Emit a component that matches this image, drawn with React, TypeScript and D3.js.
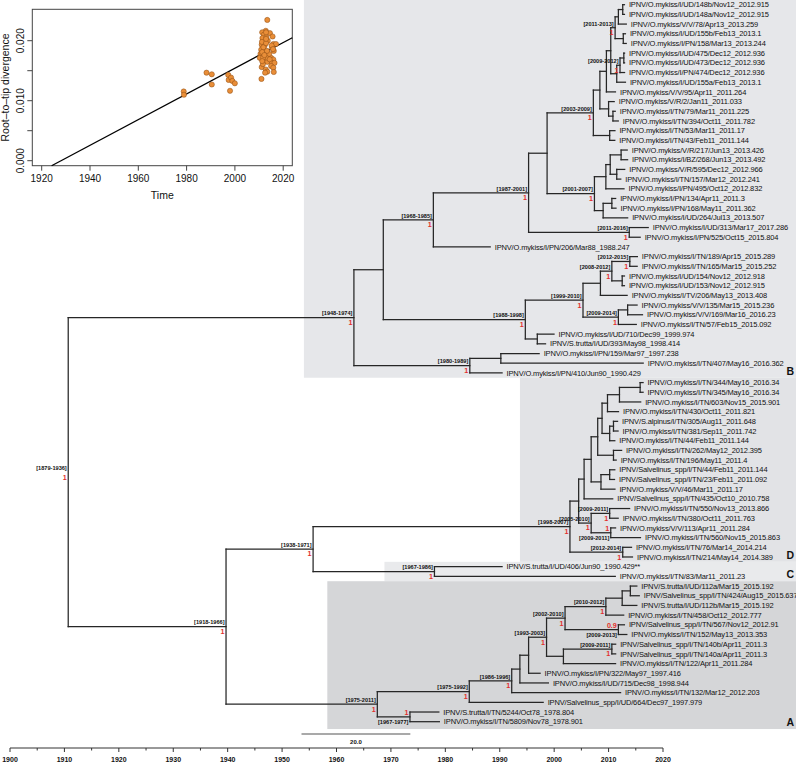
import React from "react";
import * as d3 from "d3";

// ---------- tree data ----------
const leafNames = [
  "IPNV/O.mykiss/I/UD/148b/Nov12_2012.915",
  "IPNV/O.mykiss/I/UD/148a/Nov12_2012.915",
  "IPNV/O.mykiss/V/V/78/Apr13_2013.259",
  "IPNV/O.mykiss/I/UD/155b/Feb13_2013.1",
  "IPNV/O.mykiss/I/PN/158/Mar13_2013.244",
  "IPNV/O.mykiss/I/UD/475/Dec12_2012.936",
  "IPNV/O.mykiss/I/UD/473/Dec12_2012.936",
  "IPNV/O.mykiss/I/PN/474/Dec12_2012.936",
  "IPNV/O.mykiss/I/UD/155a/Feb13_2013.1",
  "IPNV/O.mykiss/V/V/95/Apr11_2011.264",
  "IPNV/O.mykiss/V/R/2/Jan11_2011.033",
  "IPNV/O.mykiss/I/TN/79/Mar11_2011.225",
  "IPNV/O.mykiss/I/TN/394/Oct11_2011.782",
  "IPNV/O.mykiss/I/TN/53/Mar11_2011.17",
  "IPNV/O.mykiss/I/TN/43/Feb11_2011.144",
  "IPNV/O.mykiss/V/R/217/Jun13_2013.426",
  "IPNV/O.mykiss/I/BZ/268/Jun13_2013.492",
  "IPNV/O.mykiss/V/R/595/Dec12_2012.966",
  "IPNV/O.mykiss/I/TN/157/Mar12_2012.241",
  "IPNV/O.mykiss/I/PN/495/Oct12_2012.832",
  "IPNV/O.mykiss/I/PN/134/Apr11_2011.3",
  "IPNV/O.mykiss/I/PN/168/May11_2011.362",
  "IPNV/O.mykiss/I/UD/264/Jul13_2013.507",
  "IPNV/O.mykiss/I/UD/313/Mar17_2017.286",
  "IPNV/O.mykiss/I/PN/525/Oct15_2015.804",
  "IPNV/O.mykiss/I/PN/206/Mar88_1988.247",
  "IPNV/O.mykiss/I/TN/189/Apr15_2015.289",
  "IPNV/O.mykiss/I/TN/165/Mar15_2015.252",
  "IPNV/O.mykiss/I/UD/154/Nov12_2012.918",
  "IPNV/O.mykiss/I/UD/153/Nov12_2012.915",
  "IPNV/O.mykiss/I/TV/206/May13_2013.408",
  "IPNV/O.mykiss/V/V/135/Mar15_2015.236",
  "IPNV/O.mykiss/V/V/169/Mar16_2016.23",
  "IPNV/O.mykiss/I/TN/57/Feb15_2015.092",
  "IPNV/O.mykiss/I/UD/710/Dec99_1999.974",
  "IPNV/S.trutta/I/UD/393/May98_1998.414",
  "IPNV/O.mykiss/I/PN/159/Mar97_1997.238",
  "IPNV/O.mykiss/I/TN/407/May16_2016.362",
  "IPNV/O.mykiss/I/PN/410/Jun90_1990.429",
  "IPNV/O.mykiss/I/TN/344/May16_2016.34",
  "IPNV/O.mykiss/I/TN/345/May16_2016.34",
  "IPNV/O.mykiss/I/TN/603/Nov15_2015.901",
  "IPNV/O.mykiss/I/TN/430/Oct11_2011.821",
  "IPNV/S.alpinus/I/TN/305/Aug11_2011.648",
  "IPNV/O.mykiss/I/TN/381/Sep11_2011.742",
  "IPNV/O.mykiss/I/TN/44/Feb11_2011.144",
  "IPNV/O.mykiss/I/TN/262/May12_2012.395",
  "IPNV/O.mykiss/I/TN/196/May11_2011.4",
  "IPNV/Salvelinus_spp/I/TN/44/Feb11_2011.144",
  "IPNV/Salvelinus_spp/I/TN/23/Feb11_2011.092",
  "IPNV/O.mykiss/V/V/46/Mar11_2011.17",
  "IPNV/Salvelinus_spp/I/TN/435/Oct10_2010.758",
  "IPNV/O.mykiss/I/TN/550/Nov13_2013.866",
  "IPNV/O.mykiss/I/TN/380/Oct11_2011.763",
  "IPNV/O.mykiss/V/V/113/Apr11_2011.284",
  "IPNV/O.mykiss/I/TN/560/Nov15_2015.863",
  "IPNV/O.mykiss/I/TN/76/Mar14_2014.214",
  "IPNV/O.mykiss/I/TN/214/May14_2014.389",
  "IPNV/S.trutta/I/UD/406/Jun90_1990.429**",
  "IPNV/O.mykiss/I/TN/83/Mar11_2011.23",
  "IPNV/S.trutta/I/UD/112a/Mar15_2015.192",
  "IPNV/Salvelinus_spp/I/TN/424/Aug15_2015.637",
  "IPNV/S.trutta/I/UD/112b/Mar15_2015.192",
  "IPNV/O.mykiss/I/TN/458/Oct12_2012.777",
  "IPNV/Salvelinus_spp/I/TN/567/Nov12_2012.91",
  "IPNV/O.mykiss/I/TN/152/May13_2013.353",
  "IPNV/Salvelinus_spp/I/TN/140b/Apr11_2011.3",
  "IPNV/Salvelinus_spp/I/TN/140a/Apr11_2011.3",
  "IPNV/O.mykiss/I/TN/122/Apr11_2011.284",
  "IPNV/O.mykiss/I/PN/322/May97_1997.416",
  "IPNV/O.mykiss/I/UD/715/Dec98_1998.944",
  "IPNV/O.mykiss/I/TN/132/Mar12_2012.203",
  "IPNV/Salvelinus_spp/I/UD/664/Dec97_1997.979",
  "IPNV/S.trutta/I/TN/5244/Oct78_1978.804",
  "IPNV/O.mykiss/I/TN/5809/Nov78_1978.901",
];

const leafParents = [
  "b9c", "b9c", "b9a", "b9b", "b9b", "b10b", "b10b", "b10a", "b10", "b7",
  "b11", "b11a", "b11a", "b14", "b14",
  "b17b", "b17b", "b17c", "b17c", "b17", "b18a", "b18a", "b18", "b19", "b19", "b2",
  "b23b", "b23b", "b23c", "b23c", "b23", "b24a", "b24a", "b24", "b22", "b22",
  "b27", "b27", "b26",
  "d5d", "d5d", "d5c", "d5a", "d5e", "d5e", "d5b", "d4b", "d4b", "d6a", "d6a", "d6", "d2",
  "d8", "d8", "d8b", "d8b", "d9", "d9",
  "c0", "c0",
  "A7b", "A7b", "A7a", "A7", "A8", "A8", "A10", "A10", "A9", "A4", "A3", "A2", "A1",
  "A11", "A11",
];

// [id, parent, median year, 95% HPD, posterior, labels flipped]
const internalNodes: [string, string, number, string, string, boolean][] = [
  ["root", "", 1910.7, "[1879-1936]", "1", false],
  ["b0", "root", 1963.2, "[1948-1974]", "1", false],
  ["b1", "b0", 1968.6, "", "", false],
  ["b2", "b1", 1977.8, "[1968-1985]", "1", false],
  ["b3", "b2", 1995.3, "[1987-2001]", "1", false],
  ["b4", "b3", 1998.7, "", "", false],
  ["b5", "b4", 2007.2, "[2003-2009]", "1", false],
  ["b6", "b5", 2008.4, "", "", false],
  ["b7", "b6", 2009.6, "", "", false],
  ["b8", "b7", 2010.4, "", "", false],
  ["b9", "b8", 2011.2, "[2011-2013]", "1", false],
  ["b9a", "b9", 2011.8, "", "", false],
  ["b9c", "b9a", 2012.6, "", "", false],
  ["b9b", "b9", 2012.7, "", "", false],
  ["b10", "b8", 2011.5, "", "", false],
  ["b10a", "b10", 2012.1, "[2009-2012]", "1", false],
  ["b10b", "b10a", 2012.8, "", "", false],
  ["b11", "b6", 2010.0, "", "", false],
  ["b11a", "b11", 2010.8, "", "", false],
  ["b14", "b5", 2010.2, "", "", false],
  ["b16", "b4", 2007.4, "[2001-2007]", "1", false],
  ["b17", "b16", 2009.5, "", "", false],
  ["b17a", "b17", 2010.3, "", "", false],
  ["b17b", "b17a", 2012.3, "", "", false],
  ["b17c", "b17a", 2011.5, "", "", false],
  ["b18", "b16", 2009.0, "", "", false],
  ["b18a", "b18", 2010.6, "", "", false],
  ["b19", "b3", 2013.8, "[2011-2016]", "1", false],
  ["b20", "b1", 1994.7, "[1988-1998]", "1", false],
  ["b21", "b20", 2005.3, "[1999-2010]", "1", false],
  ["b23", "b21", 2008.5, "", "", false],
  ["b23a", "b23", 2010.6, "[2008-2012]", "1", false],
  ["b23b", "b23a", 2013.9, "[2012-2015]", "1", false],
  ["b23c", "b23a", 2012.5, "", "", false],
  ["b24", "b21", 2011.8, "[2009-2014]", "1", false],
  ["b24a", "b24", 2013.5, "", "", false],
  ["b22", "b20", 1996.9, "", "", false],
  ["b26", "b0", 1984.5, "[1980-1989]", "1", false],
  ["b27", "b26", 1990.2, "", "", false],
  ["a0", "root", 1939.7, "[1918-1966]", "1", false],
  ["a1", "a0", 1955.7, "[1938-1971]", "1", false],
  ["d0", "a1", 2002.9, "[1998-2007]", "1", false],
  ["d1", "d0", 2004.5, "", "", false],
  ["d2", "d1", 2005.5, "", "", false],
  ["d3", "d2", 2006.8, "", "", false],
  ["d4", "d3", 2008.0, "", "", false],
  ["d5", "d4", 2008.8, "", "", false],
  ["d5a", "d5", 2009.8, "", "", false],
  ["d5c", "d5a", 2012.0, "", "", false],
  ["d5d", "d5c", 2015.8, "", "", false],
  ["d5b", "d5", 2010.2, "", "", false],
  ["d5e", "d5b", 2010.9, "", "", false],
  ["d4b", "d4", 2010.9, "", "", false],
  ["d6", "d3", 2008.6, "", "", false],
  ["d6a", "d6", 2010.2, "", "", false],
  ["d7", "d1", 2006.8, "[2005-2010]", "1", false],
  ["d8", "d7", 2010.2, "[2009-2011]", "1", false],
  ["d8b", "d7", 2010.4, "[2009-2011]", "1", true],
  ["d9", "d0", 2012.6, "[2012-2014]", "1", false],
  ["c0", "a1", 1978.0, "[1967-1986]", "1", false],
  ["A0", "a0", 1967.5, "[1975-2011]", "1", false],
  ["A1", "A0", 1984.4, "[1975-1992]", "1", false],
  ["A2", "A1", 1992.2, "[1986-1996]", "1", false],
  ["A3", "A2", 1993.7, "", "", false],
  ["A4", "A3", 1995.3, "", "", false],
  ["A5", "A4", 1998.6, "[1993-2003]", "1", false],
  ["A6", "A5", 2002.0, "[2002-2010]", "1", false],
  ["A7", "A6", 2009.5, "[2010-2012]", "1", false],
  ["A7a", "A7", 2012.5, "", "", false],
  ["A7b", "A7a", 2014.0, "", "", false],
  ["A8", "A6", 2011.8, "[2009-2013]", "0.9", true],
  ["A9", "A5", 2001.7, "", "", false],
  ["A10", "A9", 2010.6, "[2009-2011]", "1", false],
  ["A11", "A0", 1973.5, "[1967-1977]", "1", true],
];

const cladeLetters = ["B", "D", "C", "A"];
const cladeRootIds = ["b0", "d0", "c0", "A0"];
const cladeFills = ["#e6e7ea", "#e2e3e6", "#e9eaec", "#d5d6d8"];

const axisYears = [1900, 1910, 1920, 1930, 1940, 1950, 1960, 1970, 1980, 1990, 2000, 2010, 2020];
const scaleBarYears = 20;

// ---------- root-to-tip inset data ----------
const rttYears = [
  1978.804, 1978.901, 1988.247, 1990.429, 1990.429, 1997.238, 1997.416, 1997.979, 1998.414, 1998.944, 1999.974,
  2013.4, 2012.8, 2011.3, 2014.5, 2012.0, 2015.6, 2013.6, 2011.4, 2013.0,
  2015.9, 2017.0, 2011.1, 2012.3, 2010.9, 2012.0, 2015.4, 2016.1, 2010.6, 2011.4,
  2012.7, 2013.4, 2015.0, 2015.9, 2011.4, 2010.3, 2012.3, 2013.4, 2015.4, 2016.4,
  2015.0, 2011.1, 2012.8, 2015.9, 2013.4, 2016.1, 2012.5, 2011.0,
  2011.2, 2011.8, 2012.9, 2013.1, 2011.3, 2012.9, 2011.6, 2014.2, 2014.4, 2015.2,
  2015.8, 2012.9, 2011.7, 2013.3, 2011.3, 2012.2,
];
const rttDivergence = [
  0.01154, 0.01099, 0.01467, 0.0144, 0.0127, 0.0143, 0.01346, 0.01165, 0.01385, 0.0133, 0.0129,
  0.02346, 0.02165, 0.0214, 0.02126, 0.021, 0.0207, 0.02, 0.02044, 0.02055,
  0.01945, 0.01945, 0.01934, 0.0192, 0.0185, 0.01835, 0.0188, 0.0183, 0.0178, 0.0177,
  0.01753, 0.01797, 0.01714, 0.01687, 0.01687, 0.01714, 0.0166, 0.01648, 0.0163, 0.0163,
  0.01577, 0.0156, 0.0152, 0.0155, 0.01484, 0.01478, 0.01467, 0.01363,
  0.0198, 0.0189, 0.0196, 0.0172, 0.0181, 0.0203, 0.0161, 0.0178, 0.0169, 0.0192,
  0.0186, 0.0214, 0.0172, 0.0183, 0.0166, 0.0176,
];
const rttRate = 0.000214;
const rttOrigin = 1928.0;
const insetXTicks = [1920, 1940, 1960, 1980, 2000, 2020];
const insetYTicks = [0, 0.005, 0.01, 0.015, 0.02];
const insetYLabels = ["0.000", "", "0.010", "", "0.020"];

const FONT = "'Liberation Sans', Arial, Helvetica, sans-serif";
const RED = "#e2302d";
const INK = "#262626";

function leafYear(name: string): number {
  const m = name.match(/_(\d{4}(?:\.\d+)?)\**$/);
  return m ? +m[1] : 2000;
}

export default function App() {
  const W = 796;
  const H = 763;

  const x = d3.scaleLinear().domain([1900, 2020]).range([10, 663]);
  const y = d3.scaleLinear().domain([0, leafNames.length - 1]).range([4.7, 721.7]);

  type Row = { id: string; parent: string; year: number; hpd: string; sup: string; flip: boolean; leaf: number };
  const rows: Row[] = [
    ...internalNodes.map(([id, parent, year, hpd, sup, flip]) => ({ id, parent, year, hpd, sup, flip, leaf: -1 })),
    ...leafNames.map((n, i) => ({ id: "L" + i, parent: leafParents[i], year: leafYear(n), hpd: "", sup: "", flip: false, leaf: i })),
  ];
  const root = d3
    .stratify<Row>()
    .id((d) => d.id)
    .parentId((d) => (d.parent === "" ? null : d.parent))(rows);

  const minIdx = new Map<string, number>();
  root.eachAfter((n: any) => {
    const v = n.data.leaf >= 0 ? n.data.leaf : d3.min(n.children, (c: any) => minIdx.get(c.data.id) as number);
    minIdx.set(n.data.id, v as number);
  });
  root.sort((a: any, b: any) => (minIdx.get(a.data.id) as number) - (minIdx.get(b.data.id) as number));
  const pos = new Map<string, { px: number; py: number }>();
  root.eachAfter((n: any) => {
    const px = x(n.data.year);
    let py: number;
    if (n.data.leaf >= 0) py = y(n.data.leaf);
    else {
      const f = pos.get(n.children[0].data.id)!;
      const l = pos.get(n.children[n.children.length - 1].data.id)!;
      py = (f.py + l.py) / 2;
    }
    pos.set(n.data.id, { px, py });
  });

  const nodes = root.descendants();
  const half = (y(1) - y(0)) / 2;

  const boxes = cladeRootIds.map((cid, i) => {
    const node = nodes.find((n: any) => n.data.id === cid)!;
    const lv = node.leaves().map((l: any) => l.data.leaf as number);
    const top = i === 0 ? 0 : y(d3.min(lv)!) - half;
    const bottom = y(d3.max(lv)!) + half + (i === 3 ? 2.5 : 0);
    const left = pos.get(cid)!.px - 50;
    return { letter: cladeLetters[i], fill: cladeFills[i], top, bottom, left };
  });

  const ix = d3.scaleLinear().domain([1920, 2020]).range([41.7, 283.2]);
  const iy = d3.scaleLinear().domain([0, 0.02]).range([160.7, 40.7]);
  const box = { x0: 32.3, x1: 292.3, y0: 9.3, y1: 165.7 };
  const lineYearA = ix.invert(box.x0);
  const lineYearB = ix.invert(box.x1);
  const lineYearStart = Math.max(lineYearA, rttOrigin + iy.invert(box.y1) / rttRate);

  const axisY = 748;
  const barY = 734;
  const barX0 = 301.5;

  return (
    <svg width={W} height={H} style={{ position: "absolute", left: 0, top: 0, background: "#fff" }} fontFamily={FONT}>
      {boxes.map((b) => (
        <rect key={"bx" + b.letter} x={b.left} y={b.top} width={W - b.left} height={b.bottom - b.top} fill={b.fill} />
      ))}
      {boxes.map((b) => (
        <text key={"lt" + b.letter} x={W - 2} y={b.bottom - 3} textAnchor="end" fontSize={10.5} fontWeight="bold" fill="#111">
          {b.letter}
        </text>
      ))}

      <g stroke={INK} strokeWidth={1.25} fill="none" strokeLinecap="square">
        {nodes
          .filter((n: any) => n.parent)
          .map((n: any) => {
            const p = pos.get(n.parent.data.id)!;
            const c = pos.get(n.data.id)!;
            return <line key={"h" + n.data.id} x1={p.px} x2={c.px} y1={c.py} y2={c.py} />;
          })}
        {nodes
          .filter((n: any) => n.children)
          .map((n: any) => {
            const c = pos.get(n.data.id)!;
            const f = pos.get(n.children[0].data.id)!;
            const l = pos.get(n.children[n.children.length - 1].data.id)!;
            return <line key={"v" + n.data.id} x1={c.px} x2={c.px} y1={f.py} y2={l.py} />;
          })}
      </g>

      <g fontSize={7.5} fill="#111" letterSpacing={-0.15}>
        {nodes
          .filter((n: any) => n.data.leaf >= 0)
          .map((n: any) => {
            const c = pos.get(n.data.id)!;
            return (
              <text key={"t" + n.data.id} x={c.px + 4.5} y={c.py} dy="0.35em">
                {leafNames[n.data.leaf]}
              </text>
            );
          })}
      </g>

      {nodes
        .filter((n: any) => n.children && (n.data.hpd || n.data.sup))
        .map((n: any) => {
          const c = pos.get(n.data.id)!;
          const hy = n.data.flip ? c.py + 7 : c.py - 2.2;
          const sy = n.data.flip ? c.py - 1.8 : c.py + 7.4;
          return (
            <g key={"a" + n.data.id}>
              <text x={c.px - 1.5} y={hy} textAnchor="end" fontSize={5.6} fontWeight="bold" fill="#111">
                {n.data.hpd}
              </text>
              <text x={c.px - 1.5} y={sy} textAnchor="end" fontSize={7.2} fontWeight="bold" fill={RED}>
                {n.data.sup}
              </text>
            </g>
          );
        })}

      <line x1={barX0} x2={barX0 + (x(1900 + scaleBarYears) - x(1900))} y1={barY} y2={barY} stroke="#555" strokeWidth={1.2} />
      <text x={barX0 + (x(1900 + scaleBarYears) - x(1900)) / 2} y={barY + 10} textAnchor="middle" fontSize={6} fontWeight="bold" fill="#111">
        {scaleBarYears.toFixed(1)}
      </text>

      <g stroke="#333" strokeWidth={1}>
        <line x1={x(axisYears[0])} x2={x(axisYears[axisYears.length - 1])} y1={axisY} y2={axisY} />
        {axisYears.map((yr) => (
          <line key={"mt" + yr} x1={x(yr)} x2={x(yr)} y1={axisY} y2={axisY + 4} />
        ))}
        {axisYears.slice(0, -1).map((yr) => (
          <line key={"nt" + yr} x1={x(yr + 5)} x2={x(yr + 5)} y1={axisY} y2={axisY + 2.5} />
        ))}
      </g>
      {axisYears.map((yr) => (
        <text key={"al" + yr} x={x(yr)} y={axisY + 14} textAnchor="middle" fontSize={7} fontWeight="bold" fill="#111">
          {yr}
        </text>
      ))}

      <g>
        <rect x={box.x0} y={box.y0} width={box.x1 - box.x0} height={box.y1 - box.y0} fill="#fff" stroke="#444" strokeWidth={1} />
        <line
          x1={ix(lineYearStart)}
          y1={iy(rttRate * (lineYearStart - rttOrigin))}
          x2={ix(lineYearB)}
          y2={iy(rttRate * (lineYearB - rttOrigin))}
          stroke="#000"
          strokeWidth={1.3}
        />
        {rttYears.map((yr, i) => (
          <circle key={"p" + i} cx={ix(yr)} cy={iy(rttDivergence[i])} r={2.6} fill="#e98e38" stroke="#8a4a12" strokeWidth={0.5} />
        ))}
        {insetXTicks.map((t) => (
          <g key={"ix" + t}>
            <line x1={ix(t)} x2={ix(t)} y1={box.y1} y2={box.y1 + 5} stroke="#444" />
            <text x={ix(t)} y={box.y1 + 16} textAnchor="middle" fontSize={10} fill="#111">
              {t}
            </text>
          </g>
        ))}
        {insetYTicks.map((t, i) => (
          <g key={"iy" + t}>
            <line x1={box.x0} x2={box.x0 - 5} y1={iy(t)} y2={iy(t)} stroke="#444" />
            {insetYLabels[i] && (
              <text transform={`translate(${box.x0 - 8},${iy(t)}) rotate(-90)`} textAnchor="middle" fontSize={10} fill="#111">
                {insetYLabels[i]}
              </text>
            )}
          </g>
        ))}
        <text x={(box.x0 + box.x1) / 2} y={199} textAnchor="middle" fontSize={10.5} fill="#111">
          Time
        </text>
        <text transform={`translate(9,${(box.y0 + box.y1) / 2}) rotate(-90)`} textAnchor="middle" fontSize={10.5} fill="#111">
          Root–to–tip divergence
        </text>
      </g>
    </svg>
  );
}
